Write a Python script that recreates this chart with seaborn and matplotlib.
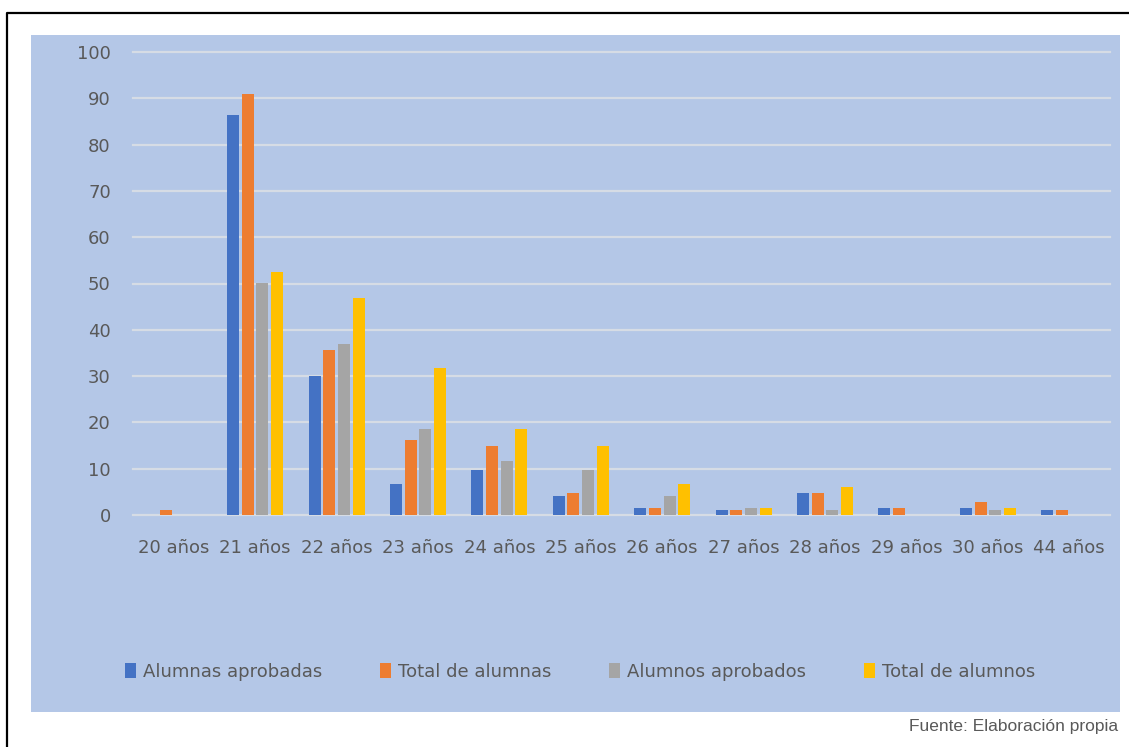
import pandas as pd
import seaborn as sns
import matplotlib.pyplot as plt
from matplotlib.patches import Rectangle
from matplotlib.lines import Line2D

# Values
ages = ['20 años', '21 años', '22 años', '23 años', '24 años', '25 años',
        '26 años', '27 años', '28 años', '29 años', '30 años', '44 años']
alumnas_aprobadas = [0, 86.5, 30, 6.6, 9.8, 4.1, 1.6, 1.0, 4.8, 1.6, 1.6, 1.0]
total_alumnas = [1.0, 91, 35.6, 16.1, 14.8, 4.8, 1.6, 1.0, 4.8, 1.6, 2.9, 1.0]
alumnos_aprobados = [0, 50.2, 36.9, 18.6, 11.7, 9.7, 4.1, 1.6, 1.0, 0, 1.0, 0]
total_alumnos = [0, 52.5, 46.9, 31.7, 18.6, 14.8, 6.6, 1.6, 6.0, 0, 1.6, 0]

series_names = ['Alumnas aprobadas', 'Total de alumnas',
                'Alumnos aprobados', 'Total de alumnos']
series_values = [alumnas_aprobadas, total_alumnas, alumnos_aprobados, total_alumnos]
colors = ['#4472C4', '#ED7D31', '#A5A5A5', '#FFC000']

# Long-format table for seaborn
rows = []
for name, vals in zip(series_names, series_values):
    for age, v in zip(ages, vals):
        rows.append({'edad': age, 'serie': name, 'valor': v})
df = pd.DataFrame(rows)

W, H = 1129, 747
fig = plt.figure(figsize=(W / 100, H / 100), dpi=100)
fig.patch.set_facecolor('white')

# Light blue chart area
bg = '#B4C7E7'
fig.patches.append(Rectangle((31 / W, 1 - 712 / H), (1120 - 31) / W, (712 - 35) / H,
                             transform=fig.transFigure, facecolor=bg,
                             edgecolor='none', zorder=0))
# Page border (left and top edges visible)
fig.lines.append(Line2D([7 / W, 7 / W, 1.0], [0.0, 1 - 13 / H, 1 - 13 / H],
                        transform=fig.transFigure, color='black', lw=1.6))

ax = fig.add_axes([133 / W, 1 - 515 / H, (1110 - 133) / W, (515 - 52) / H])
ax.set_facecolor('none')
ax.set_zorder(2)

sns.barplot(data=df, x='edad', y='valor', hue='serie', palette=colors,
            width=0.72, gap=0.18, ax=ax, saturation=1, legend=True)

ax.set_ylim(0, 100)
ax.set_yticks(range(0, 101, 10))
ax.set_xlim(-0.5, len(ages) - 0.5)
ax.set_xlabel('')
ax.set_ylabel('')
for s in ax.spines.values():
    s.set_visible(False)
ax.grid(axis='y', color='#D6DCE5', lw=1.6)
ax.set_axisbelow(True)
for gl in ax.get_ygridlines():
    gl.set_clip_on(False)
ax.tick_params(axis='both', length=0, labelsize=13, labelcolor='#595959')
ax.tick_params(axis='y', pad=16)
ax.tick_params(axis='x', pad=17)

handles, labels = ax.get_legend_handles_labels()
ax.legend_.remove()
leg = fig.legend(handles, labels, loc='center', bbox_to_anchor=(580 / W, 1 - 672 / H),
                 ncol=4, frameon=False, fontsize=13, labelcolor='#595959',
                 handlelength=0.6, handleheight=0.9, handletextpad=0.4,
                 columnspacing=3.2)
leg.set_zorder(3)

fig.text(1118 / W, 1 - 727 / H, 'Fuente: Elaboración propia', ha='right',
         va='center', fontsize=12.5, color='#595959', family='Liberation Sans')

fig.savefig('out.png', dpi=100)
